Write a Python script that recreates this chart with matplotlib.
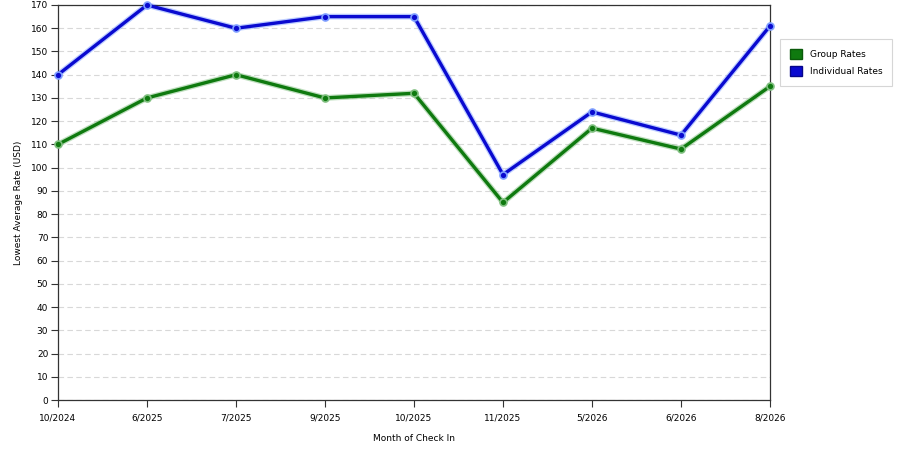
import matplotlib
matplotlib.use("Agg")
import matplotlib.pyplot as plt
from matplotlib.patches import Patch

# data
months = ["10/2024", "6/2025", "7/2025", "9/2025", "10/2025",
          "11/2025", "5/2026", "6/2026", "8/2026"]
group_rates = [110, 130, 140, 130, 132, 85, 117, 108, 135]
individual_rates = [140, 170, 160, 165, 165, 97, 124, 114, 161]
y_ticks = list(range(0, 171, 10))

plt.rcParams['font.family'] = ['DejaVu Sans']

fig = plt.figure(figsize=(9, 4.5), dpi=100)
ax = fig.add_axes([58 / 900, 50 / 450, 712 / 900, 395 / 450])

x = list(range(len(months)))
for vals, col, glow, lab in [(group_rates, "#0f7a0f", "#7fbf7f", "Group Rates"),
                             (individual_rates, "#0a0ad0", "#7f9fff", "Individual Rates")]:
    ax.plot(x, vals, color=glow, lw=4.2, alpha=0.5, zorder=2, clip_on=False)
    ax.plot(x, vals, color=col, lw=2.4, zorder=3, clip_on=False,
            marker="o", ms=5, mfc=col, mec=glow, mew=1.2, label=lab)

ax.set_xlim(0, len(months) - 1)
ax.set_ylim(0, 170)
ax.set_xticks(x)
ax.set_xticklabels(months, fontsize=6.5)
ax.set_yticks(y_ticks)
ax.set_yticklabels([str(v) for v in y_ticks], fontsize=6.5)
ax.tick_params(direction="out", length=5, width=0.8, color="#333333", pad=5)
ax.tick_params(axis="y", pad=2)
ax.yaxis.grid(True, linestyle=(0, (5, 3)), color="#d8d8d8", lw=0.8)
ax.set_axisbelow(True)
for s in ax.spines.values():
    s.set_color("#333333")
    s.set_linewidth(0.9)

ax.set_xlabel("Month of Check In", fontsize=6.5, labelpad=8)
ax.set_ylabel("Lowest Average Rate (USD)", fontsize=6.5, labelpad=6)

handles = [Patch(facecolor="#0f7a0f", edgecolor="#0a5a0a"),
           Patch(facecolor="#0a0ad0", edgecolor="#06068a")]
leg = fig.legend(handles, ["Group Rates", "Individual Rates"],
                 loc="upper left", bbox_to_anchor=(780 / 900, 1 - 39 / 450),
                 fontsize=6.5, frameon=True, fancybox=False,
                 handlelength=1.3, handleheight=1.3, handletextpad=0.9,
                 labelspacing=0.8, borderpad=1.1, borderaxespad=0)
leg.get_frame().set_edgecolor("#cccccc")
leg.get_frame().set_linewidth(0.8)

fig.savefig("out.png", dpi=100)
